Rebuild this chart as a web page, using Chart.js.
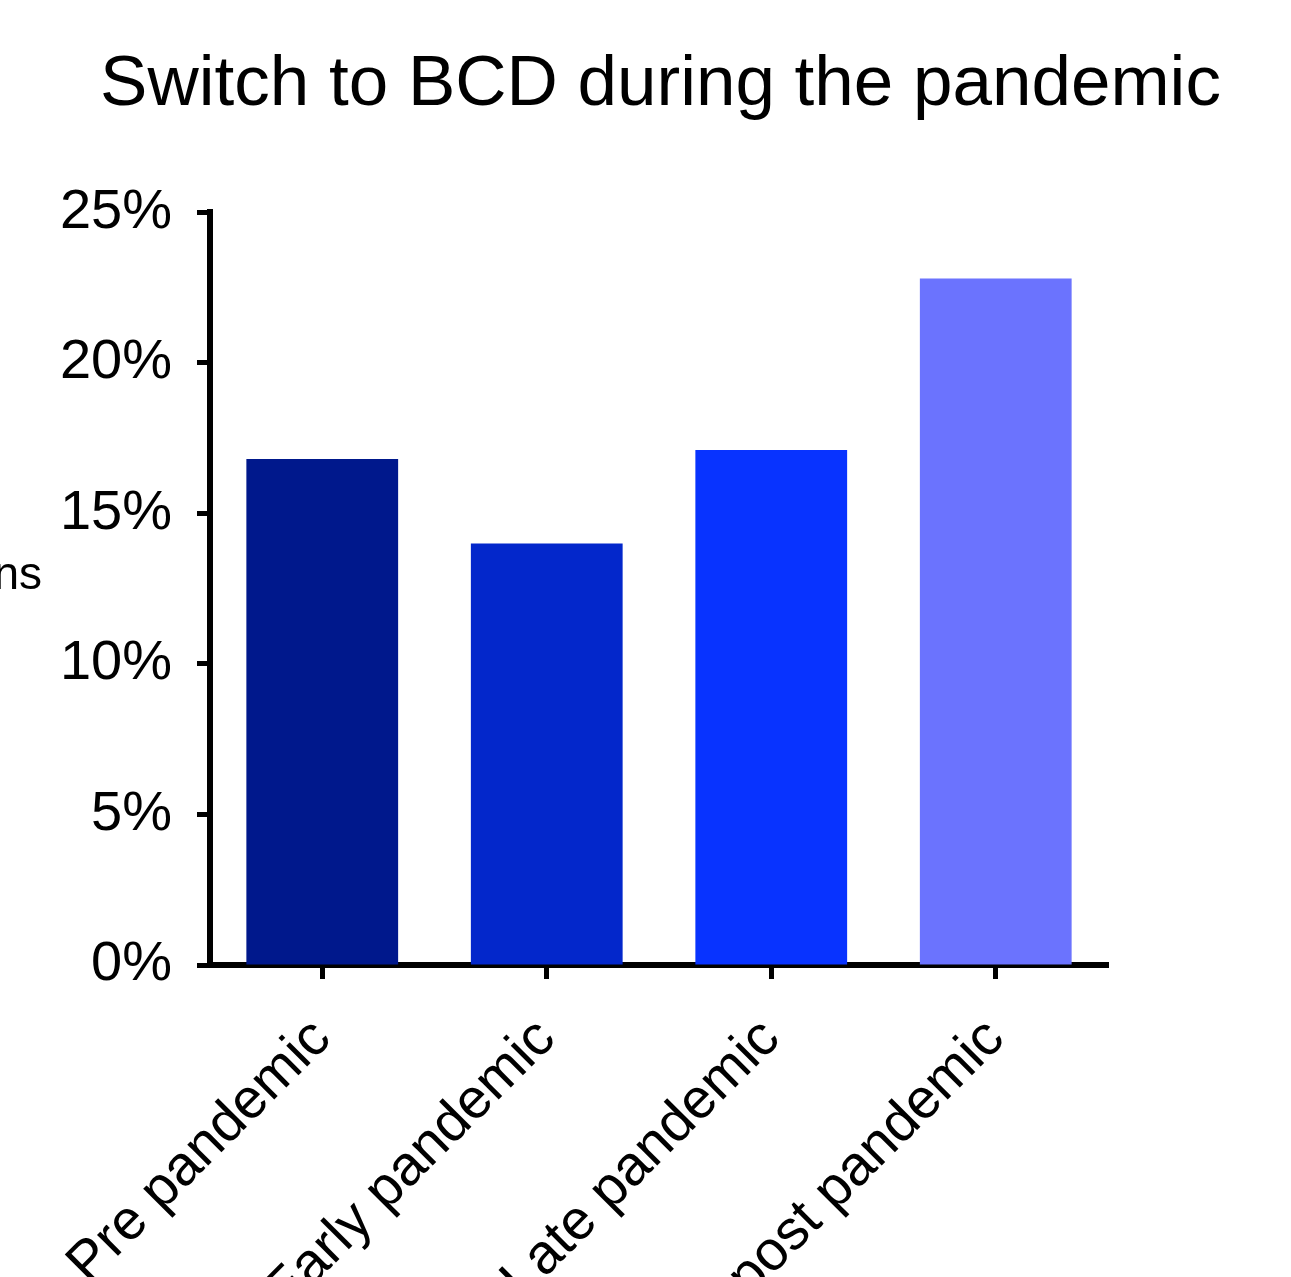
<!DOCTYPE html>
<html>
<head>
<meta charset="utf-8">
<script src="https://cdn.jsdelivr.net/npm/chart.js@4"></script>
<style>
  body { margin: 0; background: #fff; }
  canvas { display: block; }
</style>
</head>
<body>
<canvas id="chart" width="1291" height="1277"></canvas>
<script>
// data
var categories = ["Pre pandemic", "Early pandemic", "Late pandemic", "post pandemic"];
var switchPct = [16.8, 14.0, 17.1, 22.8];
var barColors = ["#00188c", "#0327cb", "#0833ff", "#6b73fe"];
var yTicks = [0, 5, 10, 15, 20, 25];

var fontFamily = "'Liberation Sans', Arial, sans-serif";

// the y title is cut off by the left edge, only its end shows
var sideLabel = {
    id: "sideLabel",
    afterDraw: function(chart){
        var ctx = chart.ctx;
        ctx.save();
        ctx.font = "46px " + fontFamily;
        ctx.fillStyle = "#000";
        ctx.textAlign = "right";
        ctx.textBaseline = "middle";
        ctx.fillText("ns", 42, 576);
        ctx.restore();
    }
};

window.onload = function(){
    var ctx = document.getElementById("chart").getContext("2d");
    new Chart(ctx, {
        type: "bar",
        data: {
            labels: categories,
            datasets: [{
                data: switchPct,
                backgroundColor: barColors,
                borderWidth: 0,
                barPercentage: 0.676,
                categoryPercentage: 1.0
            }]
        },
        options: {
            responsive: false,
            animation: false,
            layout: { padding: { left: 30, right: 0, top: 0, bottom: 0 } },
            plugins: {
                legend: { display: false },
                tooltip: { enabled: false },
                title: {
                    display: true,
                    text: "Switch to BCD during the pandemic",
                    color: "#000",
                    font: { family: fontFamily, size: 71, weight: "normal" },
                    padding: { top: 43, bottom: 84 }
                }
            },
            scales: {
                x: {
                    afterFit: function(scale){ scale.height = 312; },
                    border: { display: true, color: "#000", width: 6 },
                    grid: {
                        display: true,
                        offset: false,
                        drawOnChartArea: false,
                        drawTicks: true,
                        tickLength: 14,
                        tickWidth: 5,
                        tickColor: "#000"
                    },
                    ticks: {
                        autoSkip: false,
                        maxRotation: 45,
                        minRotation: 45,
                        padding: 27,
                        color: "#000",
                        font: { family: fontFamily, size: 56 }
                    }
                },
                y: {
                    min: 0,
                    max: 25,
                    afterFit: function(scale){ scale.width = 180; },
                    afterBuildTicks: function(scale){
                        scale.ticks = yTicks.map(function(v){ return { value: v }; });
                    },
                    border: { display: true, color: "#000", width: 6 },
                    grid: {
                        display: true,
                        drawOnChartArea: false,
                        drawTicks: true,
                        tickLength: 13,
                        tickWidth: 5,
                        tickColor: "#000"
                    },
                    ticks: {
                        padding: 25,
                        color: "#000",
                        font: { family: fontFamily, size: 56 },
                        callback: function(v){ return v + "%"; }
                    }
                },
                // empty space on the right, so the plot ends where the picture's does
                spacer: {
                    position: "right",
                    display: true,
                    afterFit: function(scale){ scale.width = 183; },
                    border: { display: false },
                    grid: { display: false },
                    ticks: { display: false }
                }
            }
        },
        plugins: [sideLabel]
    });
};
</script>
</body>
</html>
